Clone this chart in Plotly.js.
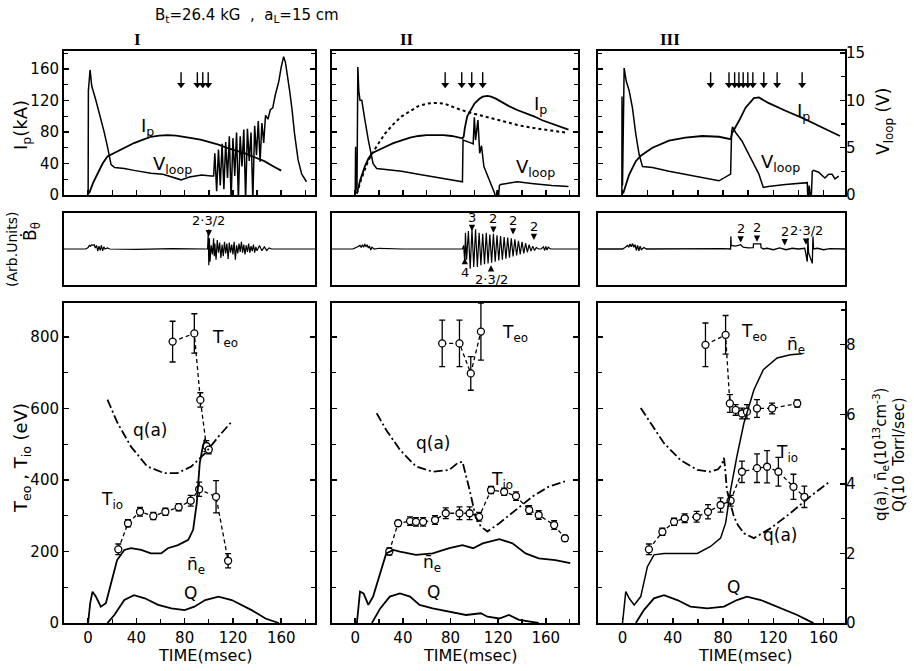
<!DOCTYPE html>
<html><head><meta charset="utf-8">
<script src="https://cdn.plot.ly/plotly-3.0.1.min.js"></script>
<style>html,body{margin:0;padding:0;background:#fff}#chart{width:914px;height:671px}</style>
</head><body><div id="chart"></div>
<script>
// ---------------- DATA (time in msec) ----------------
// Top row: plasma current Ip (kA) and loop voltage Vloop (V)
const ipI = [[0.8,2],[4,15],[7.8,27],[12,40],[16,49],[20,52],[24,55],[31,61],[38,66],[45,70],[52,74],[59,75.5],[66,76],[73,75.5],[80,74],[87,72],[94,70],[101,67],[108,64],[115,60],[122,57],[130,53],[138,48],[146,43],[154,36],[160,31]];
const vloopI = [[0,0],[0.2,11],[1.6,13.2],[3,11.5],[6.4,10],[8.5,9],[10.5,8.2],[13,6.8],[16,5.1],[19,3.2],[22,2.9],[30,2.8],[38,2.6],[52,2.3],[62,2.2],[70,1.9],[77,1.6],[84,1.9],[94,2.1],[102,2.0],
 [104,2.0],[105,4.4],[106.5,0.4],[108,4.8],[109.5,1.0],[111,5.4],[112.5,0.6],[114,5.6],[115.5,1.8],[117,6.2],[118.5,-0.5],[120,6.0],[121.5,2.0],[123,6.6],[124.5,-0.5],[126,6.2],[127.5,3.0],[129,6.9],[130.5,-0.5],[132,7.0],[133.5,3.6],[135,6.6],[136.5,-0.5],[138,7.3],[139.5,4.2],[141,7.8],[142.5,3.5],[144,7.6],[145.5,5.5],[147,8.4],[149,8.0],[151,9.0],[153,9.2],[155,10.5],[158,12.0],[160,13.5],[162,14.6],[163.5,14.0],[165,12.8],[167,11.0],[169,9.0],[171,6.5],[174,3.7],[177,2.2],[181,1.4]];
const arrowsI = [77, 90.5, 95, 99.5];

const ipII = [[1.4,2],[4,18],[8,36],[11,46],[14,53],[19,57],[25,61],[32,66],[39,70],[46,73],[53,75],[60,76],[67,76],[74,76],[81,75],[87,73],[90,72],[91,74],[92,85],[94,100],[97,109],[100,116],[104,122],[107,125],[111,126],[114,125],[118,122.5],[122,119],[129,113],[136,108],[143,104],[150,100],[157,95],[164,91],[171,87],[179,83]];
const ipRefII = [[1.4,2],[5,20],[11,44],[18,62],[25,78],[32,90],[39,100],[46,107],[53,113],[60,116],[67,117],[75,116],[82,112],[89,108],[98,104],[108,100],[122,94],[136,89],[150,85],[164,82],[178,79]];
const vloopII = [[0,0],[0.3,5.1],[0.6,0.5],[1.5,1],[2.2,13.5],[3,11],[4,10],[5.5,10],[6.5,9],[8,8],[11,5.8],[13,4.5],[15,3.3],[18,2.8],[25,2.7],[39,2.5],[53,2.2],[67,1.9],[80,1.6],[90,1.4],[90.5,5.8],[94,5.6],[97,5.5],[99,5.4],[100,8.2],[101,5.8],[103,7.9],[104.5,4.4],[106,5.2],[108,3],[111,2],[114,1.2],[117,0.2],[118,-0.8],[119,0.5],[120,-0.8],[121,1],[122,1.1],[130,1.3],[136,1.4],[150,1.2],[165,1.0],[179,0.9]];
const arrowsII = [75.5, 89.4, 97.8, 107];

const ipIII = [[0.5,2],[5.3,26],[10.6,43],[14.6,50],[23.8,60],[37,69],[50,73],[63.5,75],[76.7,74],[86,71],[87.3,79],[92.6,94],[97.9,111],[104.5,123],[108.5,124],[116,117],[129.6,107],[143,98],[156,88],[173,75]];
const vloopIII = [[-0.5,0],[-0.4,10.4],[0,1],[1.3,13.4],[3,12],[5.3,11],[7.9,9.2],[10.6,6.4],[13.2,4.3],[15.9,3],[23.8,2.9],[37,2.5],[58,2],[76.7,1.5],[86,2.2],[86.8,6.7],[87.5,7.2],[90,6.6],[95,5.7],[100.5,4.3],[104.5,3.2],[108.5,2.2],[112,0.8],[116,0.9],[129.6,1.1],[145.5,1.3],[147,1.3],[147.5,-0.8],[148.5,1],[150,-0.8],[151,2.5],[152,2.6],[156,2.4],[161,1.8],[164,2.2],[166.7,2.2],[169,1.7],[172,2]];
const arrowsIII = [70.1, 84.7, 89.2, 92.6, 96, 99.7, 103.7, 112.4, 123, 142.9];

// Middle row: magnetic fluctuation B-dot (arb. units)
const bdotI = [[-20,0],[-2,0],[0,0.04],[1,0.1],[2,0.08],[3,0.12],[4,0.1],[5,0.12],[6,0.03],[7,0.1],[8,-0.06],[9,0.08],[10,-0.04],[11,0.1],[12,-0.05],[13,0.06],[14,0],[16,0.03],[18,0],[40,-0.01],[70,0.01],[90,0],[99,0],[99.5,0.45],[100,-0.45],[100.5,0.3],[101,-0.35],[102,0.1],[103,-0.15],[104,0.3],[104.5,-0.2],[105,0.15],[106,-0.3],[107,0.25],[108,-0.1],[109,0.18],[110,-0.25],[111,0.12],[112,-0.2],[113,0.2],[114,-0.12],[115,0.15],[116,-0.28],[117,0.18],[118,-0.1],[119,0.12],[120,-0.15],[121,0.2],[122,-0.3],[123,0.1],[124,-0.12],[125,0.15],[126,-0.08],[127,0.2],[128,-0.1],[129,0.12],[130,-0.15],[131,0.1],[132,-0.08],[133,0.15],[134,-0.1],[135,0.08],[136,-0.06],[137,0.12],[138,-0.1],[139,0.06],[140,-0.05],[142,0.1],[144,-0.05],[146,0.06],[148,-0.04],[150,0.03],[152,0],[188,0]];
const bdotII = [[-19.5,0],[-2,0],[0,0.03],[2,0.06],[4,0.1],[5,0.04],[6,0.12],[7,0.05],[8,0.14],[9,0.06],[10,0.12],[11,0.03],[12,0.08],[13,-0.03],[14,0.05],[16,0],[20,0.02],[40,0],[60,0.01],[80,0],[90,0],[91,0.1],[92,-0.4],[92.5,0.45],[93.5,-0.3],[95,0.5],[96.5,-0.55],[98,0.55],[99.5,-0.5],[101,0.55],[102.5,-0.5],[104,0.45],[105.5,-0.45],[107,0.42],[108.5,-0.42],[110,0.45],[111.5,-0.4],[113,0.4],[114.5,-0.38],[116,0.42],[117.5,-0.35],[119,0.38],[120.5,-0.32],[122,0.36],[123.5,-0.3],[125,0.33],[126.5,-0.27],[128,0.32],[129.5,-0.24],[131,0.3],[132.5,-0.21],[134,0.27],[135.5,-0.18],[137,0.23],[138.5,-0.15],[140,0.2],[141.5,-0.12],[143,0.16],[144.5,-0.09],[146,0.12],[147.5,-0.06],[149,0.08],[150.5,-0.04],[152,0.04],[154,0],[156,0],[158,0.06],[159,-0.04],[160,0.07],[161,-0.03],[162,0.05],[164,0],[187,0]];
const bdotIII = [[-19.5,0],[0,0],[2,0.04],[4,0.1],[5,0.05],[6,0.14],[7,0.06],[8,0.15],[9,0.05],[10,0.12],[11,-0.04],[12,0.1],[13,-0.05],[14,0.08],[15,-0.02],[17,0.04],[19,0],[40,0.01],[60,0],[80,0.01],[86,0],[86.2,0.35],[86.5,0.1],[90,0.08],[94,0.12],[96,0.05],[100,0.03],[104,0.04],[104.2,0.14],[110,0.14],[110.2,0.04],[112,0],[115,0.02],[120,-0.02],[125,0.03],[130,-0.02],[135,0.02],[140,0],[145,0.02],[147,-0.35],[147.5,0.3],[148,-0.1],[151,-0.4],[151.5,0.35],[152,0],[155,0.02],[160,-0.02],[165,0.01],[177,0]];

// Bottom row: Teo, Tio (eV) with error; q(a), ne (1e13 cm-3), Q (right axis units)
const teoI = [[70,787,57],[88,810,55],[93,624,20],[98,495,15],[100,485,12]];
const tioI = [[25,206,15],[33,279,10],[43,311,12],[54,299,10],[64,311,10],[75,324,10],[85,342,15],[92,374,20],[106,353,45],[116,174,20]];
const qaI = [[16,6.42],[24.4,5.75],[35.5,5.07],[49,4.5],[63,4.31],[74,4.31],[85.5,4.5],[97,4.88],[108,5.36],[119,5.79]];
const neI = [[0,0],[1.7,0.57],[3.6,0.9],[6.4,0.76],[10.5,0.47],[14.7,0.57],[19,1.14],[24,1.81],[30,2.1],[35.5,2.15],[44,2.1],[52,2.0],[60.5,2.0],[66,2.15],[74.5,2.24],[83,2.39],[87,2.68],[90,3.44],[92.5,4.6],[95,5.07],[97,5.3]];
const QI = [[16,0],[21.7,0.23],[30,0.66],[38,0.8],[47,0.71],[58,0.52],[69,0.42],[80,0.37],[88,0.47],[97,0.66],[108,0.76],[119,0.66],[135.5,0.37],[147,0.13],[158,0]];

const teoII = [[73,782,65],[87.5,782,65],[97,698,47],[105.5,815,80]];
const tioII = [[28.6,200,10],[36,279,8],[46,285,12],[51,283,12],[57,283,12],[67,288,12],[76,307,15],[87.5,307,18],[96,307,18],[104,297,12],[114,372,10],[125,367,10],[135,355,12],[146,316,12],[154,302,12],[167,274,12],[176,237,8]];
const qaII = [[18,6.03],[26,5.55],[37.5,4.98],[51,4.5],[65,4.35],[79,4.4],[86,4.6],[90,4.64],[96,3.83],[101,3.06],[105.5,2.77],[111,2.63],[121,2.87],[135,3.25],[149,3.64],[162.5,3.92],[176,4.07]];
const neII = [[1.4,0],[4,0.9],[7,0.85],[11,0.52],[15,0.76],[21,1.43],[26,2.0],[32,2.1],[37.5,2.05],[51,1.96],[65,2.0],[79,2.15],[90,2.24],[99,2.15],[107,2.29],[121,2.41],[132,2.29],[143,2.0],[154,1.86],[168,1.81],[180.5,1.72]];
const QII = [[14,0],[21,0.42],[29,0.76],[37.5,0.85],[46,0.76],[54,0.52],[65,0.42],[79,0.33],[93,0.23],[105.5,0.28],[111,0.18],[121,0.13],[129,0.23],[137.5,0.09],[149,0.04],[154,0]];

const teoIII = [[66,778,61],[82,806,54],[85.4,614,25],[90,596,15],[95,586,15],[99,591,20],[107,600,25],[119,600,15],[139,614,10]];
const tioIII = [[21,206,15],[31.7,255,10],[41,283,10],[49.5,293,12],[59,297,15],[68,311,20],[78,330,20],[86,342,15],[95,423,30],[107,433,40],[115,437,45],[124,423,40],[136,381,35],[144.7,353,30]];
const qaIII = [[14.5,6.18],[22.5,5.75],[33,5.17],[46,4.69],[59.5,4.4],[70,4.35],[76,4.42],[79,4.55],[80.7,4.75],[81.5,4.5],[83,3.83],[88.6,3.06],[92,2.8],[96.6,2.58],[104.5,2.44],[117.7,2.72],[133.6,3.16],[149.5,3.64],[165,4.07]];
const neIII = [[0,0],[2.6,0.9],[5.3,0.71],[9.3,0.52],[14.5,0.76],[19.8,1.62],[25,1.96],[33,2.0],[46,2.0],[59.5,2.0],[70,2.2],[78,2.44],[82,2.87],[86,3.83],[91,4.79],[96.6,5.75],[104.5,6.7],[112,7.28],[123,7.62],[133.6,7.71],[143,7.74]];
const QIII = [[10.6,0],[17,0.37],[25,0.71],[33,0.8],[43.6,0.66],[54,0.47],[67.5,0.42],[80.7,0.47],[91,0.66],[99,0.76],[110,0.66],[123,0.47],[139,0.23],[149.5,0.04],[152,0]];

const timeTicks = [0, 40, 80, 120, 160];

// ---------------- LAYOUT ----------------
const W = 914, H = 671, F = 'DejaVu Sans';
const colPx = [[64,315],[332,578],[598,845]];
const rowTop = [51,195], rowMid = [213,285], rowBot = [303,623];
const xRanges = [[-20,188],[-19.5,187],[-19.5,177]];
const dx = c => [colPx[c][0]/W, colPx[c][1]/W];
const dy = r => [1 - r[1]/H, 1 - r[0]/H];
const id = n => n === 1 ? '' : String(n);

const layout = {width:W, height:H, margin:{l:0,r:0,t:0,b:0}, paper_bgcolor:'#fff', plot_bgcolor:'rgba(0,0,0,0)', showlegend:false, font:{family:F,color:'#000'}, annotations:[]};
const base = {showline:true, linecolor:'#000', linewidth:2, showgrid:false, zeroline:false, ticks:'inside', ticklen:5, tickwidth:1.5, tickcolor:'#000', tickfont:{family:F,size:15,color:'#000'}, fixedrange:true};
const minor = d => ({dtick:d, ticks:'inside', ticklen:4, tickwidth:1.2, tickcolor:'#000', showgrid:false});
const hidden = {showline:false, showgrid:false, zeroline:false, ticks:'', showticklabels:false, fixedrange:true};

for (let c = 0; c < 3; c++) {
  layout['xaxis'+id(c+1)] = Object.assign({}, base, {domain:dx(c), anchor:'y'+id(c+1), range:xRanges[c], tick0:0, dtick:20, showticklabels:false, mirror:true});
  layout['yaxis'+id(c+1)] = Object.assign({}, base, {domain:dy(rowTop), anchor:'x'+id(c+1), range:[0,183], tick0:0, dtick:40, minor:minor(20), showticklabels:c===0, mirror:c<2?'ticks':true});
  layout['yaxis'+(c+4)] = c===2 ? Object.assign({}, base, {overlaying:'y3', anchor:'x3', side:'right', showline:false, range:[0,15.2], tick0:0, dtick:5, minor:minor(2.5)}) : Object.assign({}, hidden, {overlaying:'y'+id(c+1), anchor:'x'+id(c+1), side:'right', range:[0,15.2]});
  layout['xaxis'+(c+4)] = Object.assign({}, base, {domain:dx(c), anchor:'y'+(c+7), range:xRanges[c], ticks:'', showticklabels:false, mirror:true});
  layout['yaxis'+(c+7)] = Object.assign({}, base, {domain:dy(rowMid), anchor:'x'+(c+4), range:[-1,1], ticks:'', showticklabels:false, mirror:true});
  layout['xaxis'+(c+7)] = Object.assign({}, base, {domain:dx(c), anchor:'y'+(c+10), range:xRanges[c], tickmode:'array', tickvals:timeTicks, ticktext:timeTicks.map(String), minor:{tickmode:'linear', tick0:0, dtick:20, ticks:'inside', ticklen:4, tickwidth:1.2, tickcolor:'#000'}, mirror:true});
  layout['yaxis'+(c+10)] = Object.assign({}, base, {domain:dy(rowBot), anchor:'x'+(c+7), range:[0,895], tick0:0, dtick:200, minor:minor(100), showticklabels:c===0, mirror:c<2?'ticks':true});
  layout['yaxis'+(c+13)] = c===2 ? Object.assign({}, base, {overlaying:'y12', anchor:'x9', side:'right', showline:false, range:[0,9.2], tick0:0, dtick:2, minor:minor(1)}) : Object.assign({}, hidden, {overlaying:'y'+(c+10), anchor:'x'+(c+7), side:'right', range:[0,9.2]});
}

// ---------------- TRACES ----------------
const traces = [];
function line(pairs, xa, ya, dash, width) {
  traces.push({type:'scatter', mode:'lines', x:pairs.map(p=>p[0]), y:pairs.map(p=>p[1]), xaxis:xa, yaxis:ya,
    line:{color:'#000', width:width||1.8, dash:dash||'solid', shape:'linear'}, hoverinfo:'skip', showlegend:false});
}
function pts(trip, xa, ya) {
  traces.push({type:'scatter', mode:'lines+markers', x:trip.map(p=>p[0]), y:trip.map(p=>p[1]), xaxis:xa, yaxis:ya,
    error_y:{type:'data', array:trip.map(p=>p[2]), visible:true, color:'#000', thickness:1.3, width:3},
    line:{color:'#000', width:1.3, dash:'4px,3px'},
    marker:{symbol:'circle', size:7, color:'#fff', line:{color:'#000', width:1.3}}, hoverinfo:'skip', showlegend:false});
}
// timing arrows (stem + downward head) drawn as traces
function timeArrows(times, xa, ya) {
  traces.push({type:'scatter', mode:'lines', x:times.flatMap(t=>[t,t,null]), y:times.flatMap(()=>[156,142,null]), xaxis:xa, yaxis:ya,
    line:{color:'#000', width:1.4}, hoverinfo:'skip', showlegend:false});
  traces.push({type:'scatter', mode:'markers', x:times, y:times.map(()=>140), xaxis:xa, yaxis:ya,
    marker:{symbol:'triangle-down', size:7, color:'#000', line:{width:0}}, hoverinfo:'skip', showlegend:false});
}
const dashDot = '9px,3px,2px,3px';
line(ipI,'x','y'); line(vloopI,'x','y4',null,1.5);
line(ipRefII,'x2','y2','dot',2); line(ipII,'x2','y2'); line(vloopII,'x2','y5',null,1.5);
line(ipIII,'x3','y3'); line(vloopIII,'x3','y6',null,1.5);
timeArrows(arrowsI,'x','y'); timeArrows(arrowsII,'x2','y2'); timeArrows(arrowsIII,'x3','y3');
line(bdotI,'x4','y7',null,1.2); line(bdotII,'x5','y8',null,1.2); line(bdotIII,'x6','y9',null,1.3);
line(qaI,'x7','y13',dashDot); line(neI,'x7','y13'); line(QI,'x7','y13'); pts(tioI,'x7','y10'); pts(teoI,'x7','y10');
line(qaII,'x8','y14',dashDot); line(neII,'x8','y14'); line(QII,'x8','y14'); pts(tioII,'x8','y11'); pts(teoII,'x8','y11');
line(qaIII,'x9','y15',dashDot); line(neIII,'x9','y15',null,1.5); line(QIII,'x9','y15'); pts(tioIII,'x9','y12'); pts(teoIII,'x9','y12');

// ---------------- ANNOTATIONS ----------------
const A = layout.annotations;
function txt(x, y, t, o) {
  o = o || {};
  A.push({xref:'paper', yref:'paper', x:x/W, y:1-y/H, text:t, showarrow:false, xanchor:'center', yanchor:'middle',
    textangle:o.angle||0, font:{family:o.family||F, size:o.size||16, color:'#000'}});
}
function arrow(xa, ya, x, y, ayPx, t, size) {
  A.push({xref:xa, yref:ya, x:x, y:y, ax:0, ay:ayPx, text:t, showarrow:true, arrowhead:2, arrowsize:0.9, arrowwidth:1.4, arrowcolor:'#000', font:{family:F, size:size||13, color:'#000'}});
}
txt(247, 15, 'B<sub>t</sub>=26.4 kG  ,  a<sub>L</sub>=15 cm', {size:15});
txt(137, 40, '<b>I</b>', {family:'Liberation Serif', size:17});
txt(407, 40, '<b>II</b>', {family:'Liberation Serif', size:17});
txt(670, 40, '<b>III</b>', {family:'Liberation Serif', size:17});
txt(22, 125, 'I<sub>p</sub>(kA)', {angle:-90, size:18});
txt(884, 122, 'V<sub>loop</sub> (V)', {angle:-90, size:17});
txt(31, 232, 'Ḃ<sub>θ</sub>', {angle:-90, size:17});
txt(12, 250, '(Arb.Units)', {angle:-90, size:14});
txt(22, 458, 'T<sub>eo</sub> , T<sub>io</sub> (eV)', {angle:-90, size:18});
txt(880, 455, 'q(a), n̄<sub>e</sub>(10<sup>13</sup>cm<sup>-3</sup>)', {angle:-90, size:15});
txt(899, 455, 'Q(10  Torrl/sec)', {angle:-90, size:15});
txt(147, 127, 'I<sub>p</sub>', {size:18}); txt(172, 165, 'V<sub>loop</sub>', {size:18});
txt(540, 105, 'I<sub>p</sub>', {size:18}); txt(535, 168, 'V<sub>loop</sub>', {size:18});
txt(803, 112, 'I<sub>p</sub>', {size:18}); txt(780, 163, 'V<sub>loop</sub>', {size:18});
txt(225, 338, 'T<sub>eo</sub>', {size:17}); txt(150, 430, 'q(a)', {size:17}); txt(112, 500, 'T<sub>io</sub>', {size:17}); txt(196, 565, 'n̄<sub>e</sub>', {size:17}); txt(190, 593, 'Q', {size:17});
txt(515, 333, 'T<sub>eo</sub>', {size:17}); txt(433, 443, 'q(a)', {size:17}); txt(502, 480, 'T<sub>io</sub>', {size:17}); txt(432, 563, 'n̄<sub>e</sub>', {size:17}); txt(433, 592, 'Q', {size:17});
txt(754, 332, 'T<sub>eo</sub>', {size:17}); txt(796, 345, 'n̄<sub>e</sub>', {size:17}); txt(787, 453, 'T<sub>io</sub>', {size:17}); txt(780, 535, 'q(a)', {size:17}); txt(733, 587, 'Q', {size:17});
txt(205, 655, 'TIME(msec)', {size:16}); txt(470, 655, 'TIME(msec)', {size:16}); txt(745, 655, 'TIME(msec)', {size:16});
arrow('x4','y7',100,0.35,-16,'2·3/2');
arrow('x5','y8',98,0.5,-14,'3'); arrow('x5','y8',116,0.45,-14,'2'); arrow('x5','y8',132.5,0.4,-14,'2'); arrow('x5','y8',150,0.25,-14,'2');
arrow('x5','y8',92,-0.25,14,'4'); arrow('x5','y8',114,-0.45,14,'2·3/2');
arrow('x6','y9',94,0.18,-14,'2'); arrow('x6','y9',107,0.2,-14,'2'); arrow('x6','y9',129,0.1,-14,'2'); arrow('x6','y9',146,0.12,-14,'2·3/2');

Plotly.newPlot('chart', traces, layout, {staticPlot:true, displayModeBar:false});
</script>
</body></html>
